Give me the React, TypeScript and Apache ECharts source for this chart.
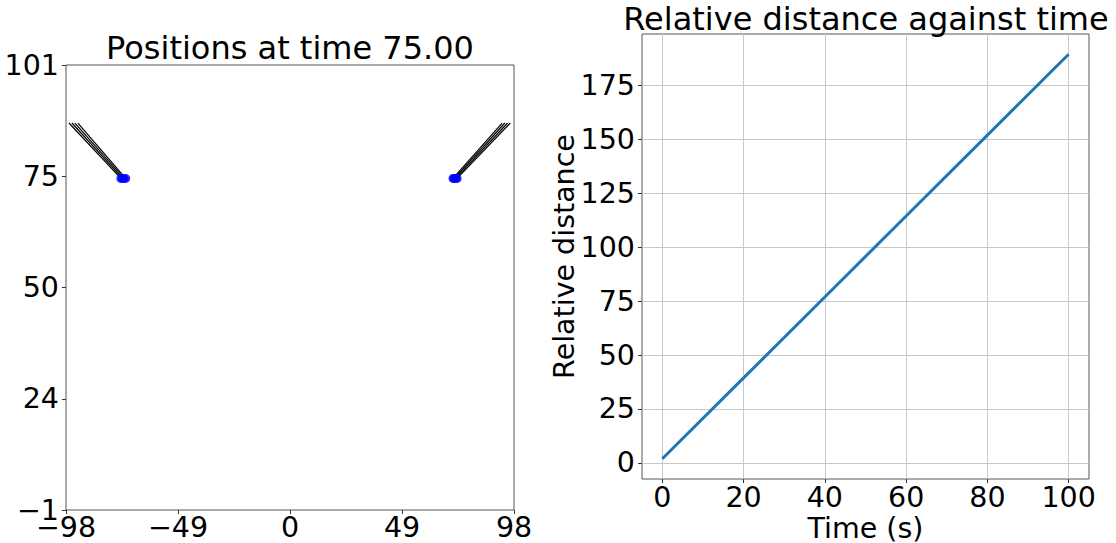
import React, { useEffect, useRef } from "react";
import * as echarts from "echarts";

// ---- Left panel: positions at time 75.00 ----
const leftXTicks = [-98, -49, 0, 49, 98];
const leftYTicks = [-1, 24.5, 50, 75.5, 101];
const trailStartY = 87.7;
const pointY = 75;
const leftTrailStartX = [-96.7, -95.4, -94.1, -92.8];
const leftPointX = [-74.0, -73.3, -72.6, -71.9];
const rightTrailStartX = [92.8, 94.0, 95.2, 96.4];
const rightPointX = [71.3, 71.9, 72.5, 73.1];

// ---- Right panel: relative distance against time ----
const timeValues = [0, 20, 40, 60, 80, 100];
const distanceValues = [1.9, 39.4, 76.9, 114.5, 152.0, 189.5];
const timeTicks = [0, 20, 40, 60, 80, 100];
const distanceTicks = [0, 25, 50, 75, 100, 125, 150, 175];

const FONT = '"DejaVu Sans", "Liberation Sans", sans-serif';
const TICK_FS = 28.5;

const minusFmt = (v: number) => {
  const t = Math.trunc(v);
  return t < 0 ? "\u2212" + Math.abs(t) : String(t);
};

export default function App() {
  const ref = useRef<HTMLDivElement>(null);
  useEffect(() => {
    if (!ref.current) return;
    const chart = echarts.init(ref.current, undefined, { renderer: "svg" });

    const trailData = (starts: number[], ends: number[]) =>
      starts.map((sx, i) => ({ coords: [[sx, trailStartY], [ends[i], pointY]] }));

    const axisCommonLabel = {
      color: "#000",
      fontSize: TICK_FS,
      fontFamily: FONT,
    };

    const option: any = {
      animation: false,
      backgroundColor: "#fff",
      grid: [
        { left: 66, top: 65, width: 448, height: 445, show: true, borderColor: "#555", borderWidth: 1, backgroundColor: "transparent", containLabel: false, outerBoundsMode: "none" },
        { left: 642, top: 34, width: 447, height: 445, show: true, borderColor: "#555", borderWidth: 1, backgroundColor: "transparent", containLabel: false, outerBoundsMode: "none" },
      ],
      xAxis: [
        {
          type: "value", gridIndex: 0, min: -98, max: 98,
          axisLine: { show: false, onZero: false },
          axisTick: { show: true, length: 4, customValues: leftXTicks, lineStyle: { color: "#333" } },
          axisLabel: { ...axisCommonLabel, margin: 3, customValues: leftXTicks, formatter: minusFmt, showMinLabel: true, showMaxLabel: true },
          splitLine: { show: false },
        },
        {
          type: "value", gridIndex: 1, min: -5, max: 105,
          axisLine: { show: false, onZero: false },
          axisTick: { show: true, length: 4, customValues: timeTicks, lineStyle: { color: "#333" } },
          axisLabel: { ...axisCommonLabel, margin: 4, customValues: timeTicks, formatter: minusFmt },
          splitLine: { show: true, lineStyle: { color: "#c8c8c8", width: 1 } },
          name: "Time (s)",
          nameLocation: "middle",
          nameGap: 35,
          nameMoveOverlap: false,
          nameTextStyle: { color: "#000", fontSize: TICK_FS, fontFamily: FONT },
        },
      ],
      yAxis: [
        {
          type: "value", gridIndex: 0, min: -1, max: 101,
          axisLine: { show: false, onZero: false },
          axisTick: { show: true, length: 4, customValues: leftYTicks, lineStyle: { color: "#333" } },
          axisLabel: { ...axisCommonLabel, margin: 7, customValues: leftYTicks, formatter: minusFmt, showMinLabel: true, showMaxLabel: true },
          splitLine: { show: false },
        },
        {
          type: "value", gridIndex: 1, min: -7.5, max: 198.9,
          axisLine: { show: false, onZero: false },
          axisTick: { show: true, length: 4, customValues: distanceTicks, lineStyle: { color: "#333" } },
          axisLabel: { ...axisCommonLabel, margin: 7, customValues: distanceTicks, formatter: minusFmt },
          splitLine: { show: true, lineStyle: { color: "#c8c8c8", width: 1 } },
          name: "Relative distance",
          nameLocation: "middle",
          nameGap: 63,
          nameRotate: 90,
          nameMoveOverlap: false,
          nameTextStyle: { color: "#000", fontSize: TICK_FS, fontFamily: FONT },
        },
      ],
      graphic: [
        {
          type: "text", x: 290, y: 47.5,
          style: { text: "Positions at time 75.00", fill: "#000", fontSize: 32, fontFamily: FONT, align: "center", verticalAlign: "middle", textAlign: "center", textVerticalAlign: "middle" },
        },
        {
          type: "text", x: 866, y: 19,
          style: { text: "Relative distance against time", fill: "#000", fontSize: 32, fontFamily: FONT, align: "center", verticalAlign: "middle", textAlign: "center", textVerticalAlign: "middle" },
        },
      ],
      series: [
        {
          type: "lines", coordinateSystem: "cartesian2d", xAxisIndex: 0, yAxisIndex: 0,
          polyline: false, symbol: "none",
          lineStyle: { color: "#000", width: 1.2, opacity: 1 },
          data: trailData(leftTrailStartX, leftPointX),
          z: 2,
        },
        {
          type: "lines", coordinateSystem: "cartesian2d", xAxisIndex: 0, yAxisIndex: 0,
          polyline: false, symbol: "none",
          lineStyle: { color: "#000", width: 1.2, opacity: 1 },
          data: trailData(rightTrailStartX, rightPointX),
          z: 2,
        },
        {
          type: "scatter", xAxisIndex: 0, yAxisIndex: 0,
          symbol: "circle", symbolSize: 9,
          itemStyle: { color: "#0000ff" },
          data: leftPointX.map((x) => [x, pointY]).concat(rightPointX.map((x) => [x, pointY])),
          z: 3,
        },
        {
          type: "line", xAxisIndex: 1, yAxisIndex: 1,
          showSymbol: false, symbol: "none",
          lineStyle: { color: "#1f77b4", width: 3 },
          data: timeValues.map((t, i) => [t, distanceValues[i]]),
          z: 3,
        },
      ],
    };
    chart.setOption(option);
    return () => chart.dispose();
  }, []);

  return (
    <div
      ref={ref}
      style={{ position: "absolute", left: 0, top: 0, width: 1116, height: 543, background: "#fff" }}
    />
  );
}
